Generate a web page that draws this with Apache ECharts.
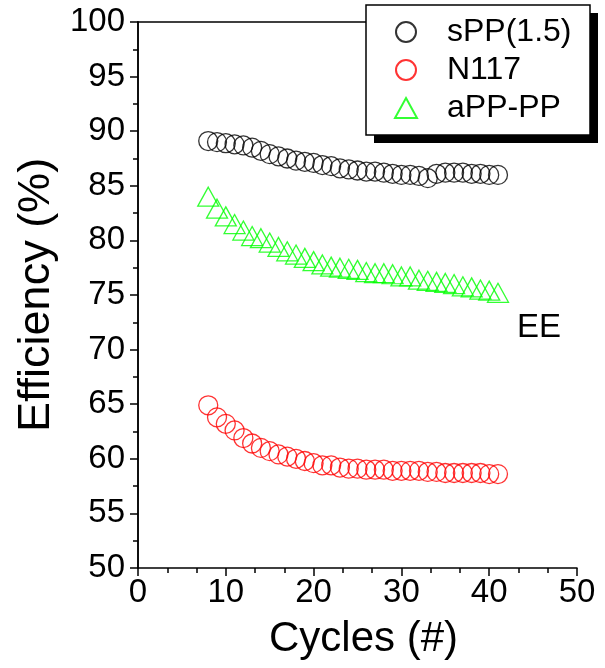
<!DOCTYPE html>
<html>
<head>
<meta charset="utf-8">
<script src="https://cdn.jsdelivr.net/npm/echarts@6/dist/echarts.min.js"></script>
<style>
  html, body { margin: 0; padding: 0; background: #fff; }
  #chart { width: 605px; height: 668px; }
</style>
</head>
<body>
<div id="chart"></div>
<script>
// Cycle numbers shared by all three membranes
const cycles = [8, 9, 10, 11, 12, 13, 14, 15, 16, 17, 18, 19, 20, 21, 22, 23, 24,
                25, 26, 27, 28, 29, 30, 31, 32, 33, 34, 35, 36, 37, 38, 39, 40, 41];

// Energy efficiency (%) per cycle
const sPP15 = [89.1, 89.0, 88.9, 88.8, 88.7, 88.5, 88.2, 87.9, 87.7, 87.5, 87.3, 87.2, 87.1, 86.9, 86.8, 86.6, 86.5,
               86.4, 86.3, 86.3, 86.2, 86.1, 86.0, 86.0, 85.9, 85.7, 86.1, 86.2, 86.2, 86.2, 86.1, 86.1, 86.0, 86.0];
const n117  = [64.9, 63.8, 63.2, 62.6, 61.9, 61.4, 61.0, 60.7, 60.4, 60.2, 60.0, 59.8, 59.6, 59.4, 59.4, 59.2, 59.1,
               59.1, 59.0, 59.0, 59.0, 58.9, 58.9, 58.9, 58.9, 58.8, 58.8, 58.7, 58.7, 58.7, 58.7, 58.7, 58.6, 58.6];
const aPPPP = [84.0, 82.9, 82.2, 81.5, 80.9, 80.4, 80.2, 79.8, 79.4, 79.0, 78.7, 78.4, 78.1, 77.8, 77.6, 77.5, 77.4,
               77.3, 77.1, 77.0, 77.0, 76.9, 76.7, 76.7, 76.4, 76.3, 76.2, 76.1, 76.0, 75.8, 75.7, 75.5, 75.4, 75.2];

const seriesNames = ['sPP(1.5)', 'N117', 'aPP-PP'];
const xTitle = 'Cycles (#)';
const yTitle = 'Efficiency (%)';
const panelLabel = 'EE';

const FONT = '"Liberation Sans", Arial, sans-serif';
const pairs = (ys) => cycles.map((c, i) => [c, ys[i]]);

const chart = echarts.init(document.getElementById('chart'), null, { renderer: 'canvas' });

const frameAxis = {
  axisLine: { show: true, lineStyle: { color: '#000', width: 1.5 } },
  axisTick: { show: false },
  axisLabel: { show: false },
  splitLine: { show: false }
};

function hollow(name, ys, symbol, size, color) {
  return {
    name: name,
    type: 'scatter',
    data: pairs(ys),
    symbol: symbol,
    symbolSize: size,
    itemStyle: { color: 'transparent', borderColor: color, borderWidth: 1.3 },
    emphasis: { disabled: true },
    z: 3
  };
}

chart.setOption({
  animation: false,
  backgroundColor: '#fff',
  grid: { left: 138, right: 28, top: 22, bottom: 100, containLabel: false },
  xAxis: [{
    type: 'value', min: 0, max: 50, interval: 10,
    name: xTitle, nameLocation: 'middle', nameGap: 50,
    nameTextStyle: { fontFamily: FONT, fontSize: 42, color: '#000', padding: [0, 0, 0, 12] },
    axisLine: { show: true, onZero: false, lineStyle: { color: '#000', width: 1.5 } },
    axisTick: { show: true, inside: false, length: 8, lineStyle: { color: '#000', width: 1.5 } },
    minorTick: { show: true, splitNumber: 3, length: 5, lineStyle: { color: '#000', width: 1.5 } },
    axisLabel: { margin: 8, fontFamily: FONT, fontSize: 33, color: '#000' },
    splitLine: { show: false }
  }, Object.assign({ type: 'value', min: 0, max: 50, position: 'top' }, frameAxis)],
  yAxis: [{
    type: 'value', min: 50, max: 100, interval: 5,
    name: yTitle, nameLocation: 'middle', nameGap: 66,
    nameTextStyle: { fontFamily: FONT, fontSize: 45, color: '#000' },
    axisLine: { show: true, onZero: false, lineStyle: { color: '#000', width: 1.5 } },
    axisTick: { show: true, inside: false, length: 8, lineStyle: { color: '#000', width: 1.5 } },
    minorTick: { show: true, splitNumber: 2, length: 5, lineStyle: { color: '#000', width: 1.5 } },
    axisLabel: { margin: 13, fontFamily: FONT, fontSize: 33, color: '#000' },
    splitLine: { show: false }
  }, Object.assign({ type: 'value', min: 50, max: 100, position: 'right' }, frameAxis)],
  legend: {
    data: seriesNames,
    orient: 'vertical',
    left: 394, top: 16,
    itemWidth: 22, itemHeight: 20, itemGap: 6,
    padding: 0,
    textStyle: { fontFamily: FONT, fontSize: 32, color: '#000', lineHeight: 32, padding: [0, 0, 0, 25] },
    z: 10
  },
  graphic: [
    { type: 'rect', z: 5, shape: { x: 374, y: 13, width: 224, height: 130 }, style: { fill: '#000' } },
    { type: 'rect', z: 6, shape: { x: 366, y: 5, width: 224, height: 130 }, style: { fill: '#fff', stroke: '#000', lineWidth: 1.5 } },
    { type: 'text', z: 6, left: 517, top: 311, style: { text: panelLabel, font: '33px "Liberation Sans", Arial, sans-serif', fill: '#000' } }
  ],
  series: [
    hollow(seriesNames[0], sPP15, 'circle', 19, '#000000'),
    hollow(seriesNames[1], n117, 'circle', 19, '#ff0000'),
    hollow(seriesNames[2], aPPPP, 'triangle', [21, 19], '#00ff00')
  ]
});
</script>
</body>
</html>
